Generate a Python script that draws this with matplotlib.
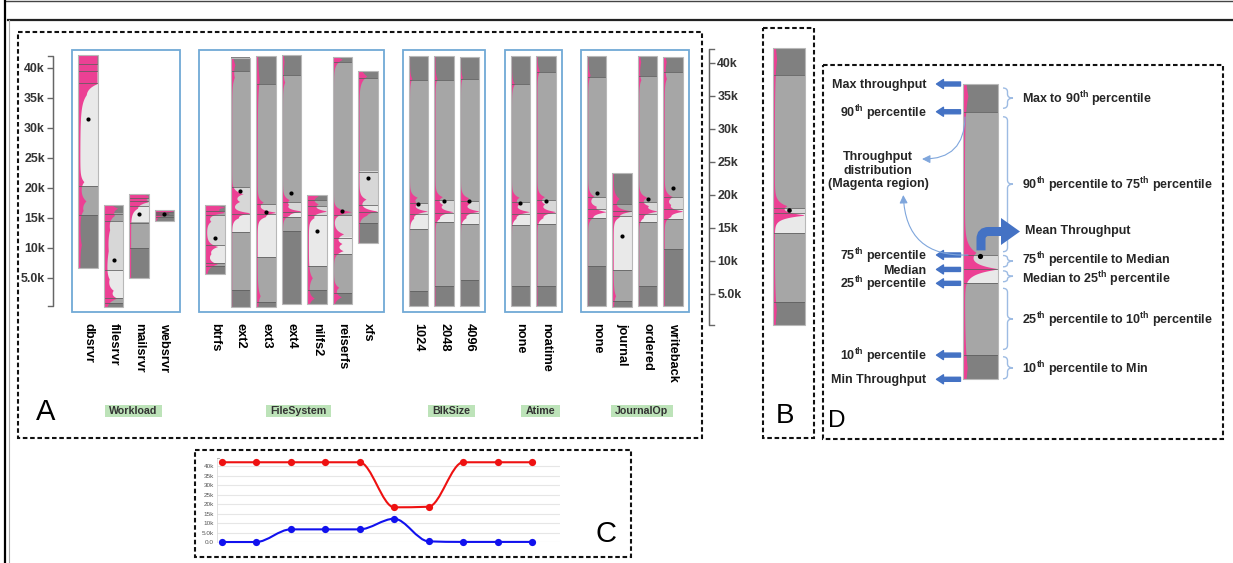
import numpy as np
import matplotlib
matplotlib.use('Agg')
import matplotlib.pyplot as plt
from matplotlib.patches import Rectangle, Polygon, PathPatch
from matplotlib.path import Path

plt.rcParams['font.family'] = ['Liberation Sans', 'DejaVu Sans']
plt.rcParams['mathtext.fontset'] = 'custom'
plt.rcParams['mathtext.rm'] = 'Liberation Sans'
plt.rcParams['mathtext.bf'] = 'Liberation Sans:bold'

W, H = 1233, 563

# ---------------- data (throughput, thousands) ----------------
groups = ['Workload', 'FileSystem', 'BlkSize', 'Atime', 'JournalOp']
group_sizes = [4, 7, 3, 2, 4]
bar_labels = ['dbsrvr', 'filesrvr', 'mailsrvr', 'websrvr',
              'btrfs', 'ext2', 'ext3', 'ext4', 'nilfs2', 'reiserfs', 'xfs',
              '1024', '2048', '4096',
              'none', 'noatime',
              'none', 'journal', 'ordered', 'writeback']
tp_max = [42.05, 17.2, 18.9, 16.3, 17.2, 41.7, 41.9, 42.05, 18.8, 41.7, 39.5,
          42.0, 41.9, 41.8, 42.0, 42.0, 42.0, 22.4, 42.0, 41.8]
tp_p90 = [40.6, 15.7, 18.3, 16.0, 16.2, 39.5, 37.3, 38.8, 18.0, 41.0, 38.2,
          37.9, 38.0, 38.1, 37.2, 39.2, 38.5, 17.3, 38.6, 39.3]
tp_p75 = [39.4, 14.4, 17.8, 15.8, 15.5, 20.2, 17.3, 17.6, 16.9, 15.5, 22.7,
          17.5, 17.9, 17.8, 17.7, 17.9, 18.5, 16.1, 17.7, 18.5]
tp_med = [37.4, 6.3, 17.0, 15.6, 10.5, 15.6, 15.6, 16.0, 15.4, 11.7, 17.1,
          15.7, 15.8, 15.8, 15.7, 15.8, 16.4, 15.3, 15.7, 16.4]
tp_p25 = [20.3, 1.6, 14.2, 15.4, 7.4, 12.6, 8.4, 15.1, 6.9, 8.9, 15.9,
          13.2, 14.3, 13.9, 13.8, 13.9, 14.9, 6.3, 14.3, 14.8]
tp_p10 = [15.5, 0.8, 9.9, 15.2, 6.9, 3.0, 1.0, 12.8, 3.0, 2.4, 14.1,
          2.8, 3.7, 4.6, 3.7, 3.7, 6.9, 1.2, 3.7, 9.8]
tp_min = [6.6, 0.2, 4.9, 14.4, 5.6, 0.2, 0.2, 0.6, 0.6, 0.6, 10.8,
          0.3, 0.3, 0.3, 0.3, 0.3, 0.3, 0.2, 0.3, 0.3]
tp_mean = [31.5, 7.9, 15.6, 15.7, 11.6, 19.5, 15.9, 19.1, 12.8, 16.1, 21.6,
           17.3, 17.8, 17.8, 17.4, 17.8, 19.2, 12.0, 18.2, 20.0]
# throughput distribution peaks: (throughput, relative width, spread)
dist_peaks = [
    [(41.8, .85, .5), (40.9, .7, .4), (39.9, .8, .5), (38.6, .9, .5), (37.4, .55, .6),
     (35.5, .2, 1.2), (21.0, .2, .4), (17.8, .3, .5), (16.2, .12, .4), (10.5, .08, .6)],
    [(16.6, .5, .4), (15.4, .3, .5), (13.0, .15, 1.2), (9.5, .1, 1.5), (4.8, .12, .5),
     (2.9, .3, .5), (1.6, .5, .35)],
    [(18.6, .9, .35), (17.7, .7, .35), (16.6, .2, .4)],
    [(16.1, .9, .2), (15.6, .5, .15)],
    [(16.8, .9, .25), (15.9, .9, .22), (14.4, .2, .3), (10.2, .55, .3), (9.0, .15, .4), (7.3, .55, .3)],
    [(40.5, .15, .8), (38.4, .1, .5), (19.0, .55, .3), (17.7, .35, .3), (15.8, .95, .2), (15.0, .25, .3)],
    [(38.0, .1, 1.5), (17.6, .3, .3), (15.9, .95, .2), (15.2, .3, .3), (2.0, .15, .6)],
    [(41.0, .08, 1.0), (37.6, .1, .4), (18.0, .3, .3), (17.2, .2, .3), (16.1, .95, .2), (15.4, .2, .3)],
    [(18.6, .45, .3), (17.3, .4, .35), (16.1, .9, .25), (15.0, .2, .3), (5.0, .2, .5), (1.6, .3, .3)],
    [(41.4, .45, .4), (16.0, .95, .25), (12.3, .5, .35), (10.7, .35, .3), (9.5, .45, .3),
     (3.4, .25, .3), (1.8, .4, .3)],
    [(38.6, .4, .5), (18.1, .35, .3), (16.1, .9, .25), (15.4, .2, .3)],
    [(38.2, .12, .4), (18.4, .35, .3), (17.4, .3, .3), (16.1, .9, .25), (14.9, .15, .3)],
    [(38.2, .1, .4), (18.5, .35, .3), (17.2, .3, .3), (16.0, .9, .25), (14.9, .15, .3)],
    [(38.4, .1, .4), (18.3, .35, .3), (17.4, .35, .3), (16.1, .95, .25), (15.0, .2, .3)],
    [(37.3, .15, .4), (18.4, .35, .3), (17.3, .3, .3), (16.0, .9, .25), (14.9, .15, .3)],
    [(39.5, .12, .4), (18.5, .35, .3), (17.3, .3, .3), (16.0, .95, .25), (15.0, .2, .3)],
    [(38.8, .12, .5), (18.6, .3, .35), (16.9, .3, .3), (16.0, .9, .25), (15.0, .15, .3)],
    [(18.2, .3, .4), (16.1, .95, .25), (15.1, .2, .3), (2.0, .12, .5)],
    [(41.0, .1, .8), (38.0, .1, .4), (18.4, .4, .3), (17.0, .35, .3), (16.1, .9, .25), (15.0, .15, .3)],
    [(41.0, .1, .8), (38.2, .1, .4), (18.5, .4, .35), (17.2, .2, .3), (16.1, .95, .25), (15.2, .2, .3)],
]
dist_floor = [0.08, 0.1, 0.07, 0.05, 0.06, 0.05, 0.05, 0.04, 0.06, 0.04, 0.04,
              0.04, 0.04, 0.04, 0.04, 0.04, 0.04, 0.04, 0.04, 0.04]

axis_ticks = [5, 10, 15, 20, 25, 30, 35, 40]
axis_tick_labels = ['5.0k', '10k', '15k', '20k', '25k', '30k', '35k', '40k']

# panel B (single configuration, enlarged)
B_levels = [42.24, 38.1, 17.9, 17.15, 14.1, 3.76, 0.23]
B_mean = 17.65
B_peaks = [(40.5, .07, 1.5), (18.3, .35, .4), (16.9, .95, .25), (2.5, .06, 1.5)]

# panel D (schematic, arbitrary units)
D_levels = [100, 90.6, 42.1, 37.2, 32.5, 8.2, 0]
D_mean = 41.8
D_peaks = [(96, .1, 3), (43, .3, 1.5), (37.4, .95, .9), (4, .08, 4)]
D_left_labels = ['Max throughput', '90$^{\\mathbf{th}}$ percentile', '75$^{\\mathbf{th}}$ percentile',
                 'Median', '25$^{\\mathbf{th}}$ percentile', '10$^{\\mathbf{th}}$ percentile',
                 'Min Throughput']
D_right_labels = ['Max to 90$^{\\mathbf{th}}$ percentile',
                  '90$^{\\mathbf{th}}$ percentile to 75$^{\\mathbf{th}}$ percentile',
                  '75$^{\\mathbf{th}}$ percentile to Median',
                  'Median to 25$^{\\mathbf{th}}$ percentile',
                  '25$^{\\mathbf{th}}$ percentile to 10$^{\\mathbf{th}}$ percentile',
                  '10$^{\\mathbf{th}}$ percentile to Min']

# panel C (max and min across configurations)
C_max = [42.1, 42.1, 42.1, 42.1, 42.1, 18.4, 18.7, 42.1, 42.1, 42.1]
C_min = [0.15, 0.15, 6.8, 6.8, 6.8, 12.4, 0.5, 0.2, 0.2, 0.2]
C_ticks = [0, 5, 10, 15, 20, 25, 30, 35, 40]
C_tick_labels = ['0.0', '5.0k', '10k', '15k', '20k', '25k', '30k', '35k', '40k']

# ---------------- styles ----------------
SEG_COLORS = ['#808080', '#a6a6a6', '#d7d7d7', '#e9e9e9', '#a6a6a6', '#808080']
MAG = '#ec4094'
BLUE = '#4472c4'
LBLUE = '#9dbbe3'
FRAME = '#71a9d6'
TXT = '#262626'
SOFT = 1.8   # visual softening of the density spikes
DFS = 9.0    # panel D font size

fig = plt.figure(figsize=(W / 100, H / 100), dpi=100)


def px_axes(x0, y0, x1, y1):
    return fig.add_axes([x0 / W, 1 - y1 / H, (x1 - x0) / W, (y1 - y0) / H])


def draw_box(ax, xc, w, levels, mean, peaks, floor, dot_s):
    for i in range(6):
        ax.bar(xc, levels[i] - levels[i + 1], bottom=levels[i + 1], width=w,
               color=SEG_COLORS[i], linewidth=0, zorder=2, clip_on=False)
    ys = np.linspace(levels[6], levels[0], 800)
    d = np.full_like(ys, floor)
    for c, a, s in peaks:
        d += a * np.exp(-np.abs(ys - c) / (s * SOFT))
    d = np.clip(d, 0, 0.96)
    ax.fill_betweenx(ys, xc - w / 2, xc - w / 2 + w * d, color=MAG, linewidth=0,
                     zorder=3, clip_on=False)
    ax.hlines(levels[1:6], xc - w / 2, xc + w / 2, color='#5e5e5e', lw=0.7,
              zorder=4, clip_on=False, alpha=0.8)
    ax.add_patch(Rectangle((xc - w / 2, levels[6]), w, levels[0] - levels[6], fill=False,
                           ec='#b8b8b8', lw=0.8, zorder=5, clip_on=False))
    ax.scatter([xc], [mean], s=dot_s, color='black', zorder=6, clip_on=False,
               linewidths=0)


# ---------------- panel A ----------------
axA = px_axes(52.7, 55.7, 702, 307.7)
axA.set_xlim(52.7, 702)
axA.set_ylim(0, 42)
axA.patch.set_visible(False)
for s in ['top', 'right', 'bottom']:
    axA.spines[s].set_visible(False)
axA.spines['left'].set_bounds(0.28, 41.95)
axA.spines['left'].set_color('#666666')
axA.set_xticks([])
axA.set_yticks(axis_ticks)
axA.set_yticklabels(axis_tick_labels, fontweight='bold', fontsize=8.9, color='#333333')
axA.tick_params(axis='y', length=4, width=1, color='#666666', pad=1.5)

group_first = [88, 215, 418.5, 520.5, 596.7]
spacing = 25.5
bar_w = 19.5
centers = []
for g0, n in zip(group_first, group_sizes):
    centers += [g0 + spacing * k for k in range(n)]

for i, xc in enumerate(centers):
    lv = [tp_max[i], tp_p90[i], tp_p75[i], tp_med[i], tp_p25[i], tp_p10[i], tp_min[i]]
    draw_box(axA, xc, bar_w, lv, tp_mean[i], dist_peaks[i], dist_floor[i], 9)

# right-hand axis
axR = px_axes(650, 49, 709, 326.5)
axR.set_ylim(0, 42.05)
axR.patch.set_visible(False)
for s in ['top', 'left', 'bottom']:
    axR.spines[s].set_visible(False)
axR.spines['right'].set_bounds(0.23, 42.05)
axR.spines['right'].set_color('#666666')
axR.yaxis.tick_right()
axR.set_xticks([])
axR.set_yticks(axis_ticks)
axR.set_yticklabels(axis_tick_labels, fontweight='bold', fontsize=8.9, color='#333333')
axR.tick_params(axis='y', length=4, width=1, color='#666666', pad=2)

# ---------------- panel B ----------------
axB = px_axes(762, 49, 814, 326.5)
axB.set_xlim(762, 814)
axB.set_ylim(0, 42.05)
axB.axis('off')
draw_box(axB, 788.9, 32.3, B_levels, B_mean, B_peaks, 0.05, 11)

# ---------------- panel D ----------------
axD = px_axes(940, 84, 1020, 379.3)
axD.set_xlim(940, 1020)
axD.set_ylim(0, 100)
axD.axis('off')
draw_box(axD, 980.2, 35, D_levels, D_mean, D_peaks, 0.05, 14)
for lvl, lab in zip(D_levels, D_left_labels):
    axD.annotate('', xy=(936.5, lvl), xytext=(960.5, lvl),
                 arrowprops=dict(arrowstyle='simple,head_length=0.5,head_width=0.65,tail_width=0.29',
                                 color=BLUE, shrinkA=0, shrinkB=0, mutation_scale=10),
                 annotation_clip=False)
    axD.text(926.5, lvl - 0.4, lab, ha='right', va='center', fontsize=DFS,
             fontweight='bold', color=TXT, clip_on=False)

# ---------------- panel C ----------------
axC = px_axes(216.7, 457.7, 560, 542.3)
axC.set_xlim(-0.143, 9.81)
axC.set_ylim(0, 44.5)
for s in ['top', 'right', 'bottom']:
    axC.spines[s].set_visible(False)
axC.spines['left'].set_color('#dddddd')
axC.spines['left'].set_linewidth(0.6)
axC.set_xticks([])
axC.set_yticks(C_ticks)
axC.set_yticklabels(C_tick_labels)
axC.tick_params(axis='y', length=0, labelsize=4.6, labelcolor='#555555', pad=2)
axC.yaxis.grid(True, color='#e6e6e6', lw=0.8)
axC.set_axisbelow(True)


def monotone_path(x, y):
    x = np.asarray(x, float)
    y = np.asarray(y, float)
    n = len(x)
    h = np.diff(x)
    s = np.diff(y) / h
    sg = lambda v: -1.0 if v < 0 else 1.0
    t = np.zeros(n)
    for i in range(1, n - 1):
        s0, s1 = s[i - 1], s[i]
        p = (s0 * h[i] + s1 * h[i - 1]) / (h[i - 1] + h[i])
        t[i] = (sg(s0) + sg(s1)) * min(abs(s0), abs(s1), 0.5 * abs(p))
    t[0] = (3 * s[0] - t[1]) / 2
    t[-1] = (3 * s[-1] - t[-2]) / 2
    verts = [(x[0], y[0])]
    codes = [Path.MOVETO]
    for i in range(n - 1):
        dx = h[i] / 3
        verts += [(x[i] + dx, y[i] + dx * t[i]), (x[i + 1] - dx, y[i + 1] - dx * t[i + 1]),
                  (x[i + 1], y[i + 1])]
        codes += [Path.CURVE4] * 3
    return Path(verts, codes)


xs = np.arange(len(C_max))
for vals, col in [(C_max, '#ee1111'), (C_min, '#1111ee')]:
    axC.add_patch(PathPatch(monotone_path(xs, vals), fill=False, ec=col, lw=1.5,
                            clip_on=False, zorder=3))
    axC.plot(xs, vals, 'o', color=col, ms=5.2, clip_on=False, zorder=4, mec='none')

# ---------------- overlay (frames, labels, annotations) ----------------
ov = fig.add_axes([0, 0, 1, 1])
ov.set_xlim(0, W)
ov.set_ylim(H, 0)
ov.axis('off')
ov.patch.set_visible(False)

# outer page lines
ov.plot([5, W], [1, 1], color='#444444', lw=1)
ov.plot([5, 5], [0, H], color='black', lw=1.6)
ov.plot([8, W], [19.5, 19.5], color='#222222', lw=1.6)
ov.plot([8.5, 8.5], [19.5, H], color='#aaaaaa', lw=0.8)

# dashed panel frames
for (x0, y0, x1, y1) in [(18, 32, 702, 438), (762.7, 28.3, 814, 438),
                         (822.7, 65, 1222.5, 439), (195, 450, 630.7, 556.7)]:
    ov.add_patch(Rectangle((x0, y0), x1 - x0, y1 - y0, fill=False, ec='#111111',
                           lw=1.5, ls=(0, (2.2, 1.3))))

# axis end caps (outer ticks)
ov.plot([47.7, 52.7, 52.7, 47.7], [56, 56, 306, 306], color='#666666', lw=1,
        solid_joinstyle='miter')
ov.plot([714, 709, 709, 714], [49, 49, 325, 325], color='#666666', lw=1)
ov.plot([216.7, 218.7], [457.7, 457.7], color='#aaaaaa', lw=0.6)

# group frames and labels
idx = 0
renderer = fig.canvas.get_renderer()
for g, n in zip(groups, group_sizes):
    c0 = centers[idx]
    c1 = centers[idx + n - 1]
    ov.add_patch(Rectangle((c0 - 15.8, 50), (c1 - c0) + 31.6, 262, fill=False,
                           ec=FRAME, lw=1.3))
    gx = (c0 + c1) / 2 + 7
    t = ov.text(gx, 411, g, ha='center', va='center', fontsize=7.7,
                fontweight='bold', color='#333333', zorder=5)
    bb = t.get_window_extent(renderer)
    wpx = bb.width
    ov.add_patch(Rectangle((gx - wpx / 2 - 4.5, 405), wpx + 9, 11.7, fc='#bde3b9',
                           ec='none', zorder=4))
    idx += n

for xc, lab in zip(centers, bar_labels):
    ov.text(xc, 323, lab, rotation=270, ha='center', va='top', fontsize=9.2,
            fontweight='bold', color='black')

# panel letters
ov.text(46, 420.5, 'A', ha='center', va='baseline', fontsize=21, color='black')
ov.text(785.5, 423, 'B', ha='center', va='baseline', fontsize=20, color='black')
ov.text(837, 427, 'D', ha='center', va='baseline', fontsize=17.5, color='black')
ov.text(606, 542, 'C', ha='center', va='baseline', fontsize=21, color='black')


# D annotations
def lvl_px(u):
    return H - axD.transData.transform((980, u))[1]


def brace(x0, y1, y2, w=10):
    xm = x0 + w * 0.45
    ym = (y1 + y2) / 2
    r = min(4, (y2 - y1) / 4)
    verts = [(x0, y1), (xm, y1), (xm, y1 + r), (xm, ym - r), (xm, ym), (x0 + w, ym),
             (x0 + w, ym), (xm, ym), (xm, ym + r), (xm, y2 - r), (xm, y2), (x0, y2)]
    codes = [Path.MOVETO, Path.CURVE3, Path.CURVE3, Path.LINETO, Path.CURVE3, Path.CURVE3,
             Path.MOVETO, Path.CURVE3, Path.CURVE3, Path.LINETO, Path.CURVE3, Path.CURVE3]
    ov.add_patch(PathPatch(Path(verts, codes), fill=False, ec=LBLUE, lw=1))
    return ym


insets = [(4, 3.5), (5, 3.3), (0.5, 2.6), (1.4, 1.6), (5, 5.7), (1.7, 0.5)]
text_shift = [1, 1, -0.5, 2.5, 1, 1]
for k, lab in enumerate(D_right_labels):
    ya = lvl_px(D_levels[k]) + insets[k][0]
    yb = lvl_px(D_levels[k + 1]) - insets[k][1]
    ym = brace(1003, ya, yb)
    ov.text(1022.5, ym + text_shift[k], lab, ha='left', va='center', fontsize=DFS,
            fontweight='bold', color=TXT)

ov.text(878.3, 170.5, 'Throughput\ndistribution\n(Magenta region)', ha='center',
        va='center', fontsize=DFS, fontweight='bold', color=TXT, linespacing=1.2)
ov.annotate('', xy=(922, 159), xytext=(965, 117),
            arrowprops=dict(arrowstyle='-|>,head_length=0.4,head_width=0.2', color='#7fa6dc',
                            lw=0.8, connectionstyle='arc3,rad=-0.5', shrinkA=0, shrinkB=0,
                            mutation_scale=12))
ov.annotate('', xy=(903.3, 195), xytext=(968, 255),
            arrowprops=dict(arrowstyle='-|>,head_length=0.4,head_width=0.2', color='#7fa6dc',
                            lw=0.8, connectionstyle='arc3,rad=-0.5', shrinkA=0, shrinkB=0,
                            mutation_scale=12))

# mean throughput bent arrow
yd = lvl_px(D_mean)
shaft = Path([(981, yd - 5.5), (981, 239), (981, 231.5), (988.5, 231.5), (1002, 231.5)],
             [Path.MOVETO, Path.LINETO, Path.CURVE3, Path.CURVE3, Path.LINETO])
ov.add_patch(PathPatch(shaft, fill=False, ec=BLUE, lw=6.5, capstyle='butt'))
ov.add_patch(Polygon([(1001, 218), (1020, 231.5), (1001, 245)], closed=True, fc=BLUE,
                     ec='none'))
ov.text(1025, 230.7, 'Mean Throughput', ha='left', va='center', fontsize=DFS,
        fontweight='bold', color=TXT)

fig.savefig('out.png', dpi=100)
